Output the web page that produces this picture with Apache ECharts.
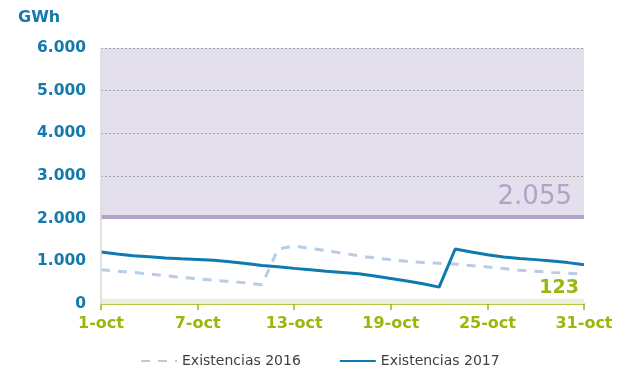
<!DOCTYPE html>
<html>
<head>
<meta charset="utf-8">
<script src="https://cdn.jsdelivr.net/npm/echarts@6/dist/echarts.min.js"></script>
<style>
  html, body { margin: 0; padding: 0; background: #fff; }
  #chart { width: 617px; height: 369px; }
</style>
</head>
<body>
<div id="chart"></div>
<script>
// Daily gas stock levels (GWh), October
const days = [
  '1-oct','2-oct','3-oct','4-oct','5-oct','6-oct','7-oct','8-oct','9-oct','10-oct',
  '11-oct','12-oct','13-oct','14-oct','15-oct','16-oct','17-oct','18-oct','19-oct','20-oct',
  '21-oct','22-oct','23-oct','24-oct','25-oct','26-oct','27-oct','28-oct','29-oct','30-oct','31-oct'
];
const stock2016 = [
  800, 770, 740, 705, 665, 625, 590, 555, 525, 495,
  450, 1290, 1360, 1300, 1250, 1190, 1130, 1080, 1040, 1000,
  975, 955, 935, 900, 870, 830, 790, 765, 740, 720, 700
];
const stock2017 = [
  1220, 1170, 1130, 1110, 1080, 1060, 1045, 1025, 990, 950,
  905, 875, 835, 805, 770, 740, 710, 655, 600, 540,
  475, 395, 1290, 1220, 1155, 1100, 1065, 1040, 1010, 970, 920
];
const maxLevel = 2055;   // upper reference level
const minLevel = 123;    // lower reference level
const yTicks = [0, 1000, 2000, 3000, 4000, 5000, 6000];

const seriesNames = ['Existencias 2016', 'Existencias 2017'];

const blue = '#1479ad';
const lineBlue = '#0f79b2';
const green = '#98b80b';
const purple = '#b3a2c7';

function fmtThousands(v) {
  if (v < 1000) return String(v);
  return Math.floor(v / 1000) + '.' + String(v % 1000).padStart(3, '0');
}

const chart = echarts.init(document.getElementById('chart'), null, { renderer: 'canvas' });

chart.setOption({
  animation: false,
  textStyle: { fontFamily: 'DejaVu Sans' },
  title: {
    text: 'GWh',
    left: 13,
    top: 5,
    textStyle: { color: blue, fontSize: 16, fontWeight: 'bold', fontFamily: 'DejaVu Sans' }
  },
  legend: {
    data: seriesNames,
    left: 135,
    top: 349,
    itemWidth: 36,
    itemHeight: 14,
    itemGap: 38,
    itemStyle: { opacity: 0 },
    textStyle: { color: '#404040', fontSize: 14, fontFamily: 'DejaVu Sans' }
  },
  grid: { left: 101, right: 33, top: 48, bottom: 65, containLabel: false },
  xAxis: {
    type: 'category',
    data: days,
    boundaryGap: false,
    axisLine: { lineStyle: { color: green, width: 1.5 } },
    axisTick: { interval: 5, length: 6, lineStyle: { color: green, width: 1.5 } },
    axisLabel: {
      interval: 5,
      margin: 12,
      color: green,
      fontSize: 16,
      fontWeight: 'bold',
      fontFamily: 'DejaVu Sans'
    },
    splitLine: { show: false }
  },
  yAxis: {
    type: 'value',
    min: yTicks[0],
    max: yTicks[yTicks.length - 1],
    interval: 1000,
    z: 5,
    axisLine: { show: true, lineStyle: { color: '#d9d9d9', width: 1.5 } },
    axisTick: { show: false },
    axisLabel: {
      margin: 15,
      color: blue,
      fontSize: 15.5,
      fontWeight: 'bold',
      fontFamily: 'DejaVu Sans',
      formatter: fmtThousands
    },
    splitLine: {
      show: true,
      lineStyle: {
        color: yTicks.map(v => v > maxLevel ? '#a0a0a0' : 'rgba(0,0,0,0)'),
        type: [2, 2],
        width: 1
      }
    }
  },
  series: [
    {
      name: seriesNames[0],
      type: 'line',
      data: stock2016,
      symbol: 'none',
      lineStyle: { color: '#b8cce4', width: 3, type: [9, 8] },
      itemStyle: { color: '#b8cce4' },
      z: 3,
      markArea: {
        silent: true,
        itemStyle: { color: '#e4dfec' },
        data: [[{ yAxis: maxLevel }, { yAxis: yTicks[yTicks.length - 1] }]]
      }
    },
    {
      name: seriesNames[1],
      type: 'line',
      data: stock2017,
      symbol: 'none',
      lineStyle: { color: lineBlue, width: 3 },
      itemStyle: { color: lineBlue },
      z: 4,
      markArea: {
        silent: true,
        itemStyle: { color: '#ecf1de' },
        data: [[{ yAxis: 0 }, { yAxis: minLevel }]]
      },
      markLine: {
        silent: true,
        symbol: 'none',
        data: [
          {
            yAxis: maxLevel,
            lineStyle: { color: purple, width: 4, type: 'solid' },
            label: {
              position: 'insideEndTop',
              distance: [12, 6],
              formatter: fmtThousands(maxLevel),
              color: purple,
              fontSize: 26,
              fontFamily: 'DejaVu Sans'
            }
          },
          {
            yAxis: minLevel,
            lineStyle: { color: 'rgba(0,0,0,0)', width: 1 },
            label: {
              show: true,
              position: 'insideEndTop',
              distance: [5, 1],
              formatter: String(minLevel),
              color: green,
              fontSize: 19,
              fontWeight: 'bold',
              fontFamily: 'DejaVu Sans'
            }
          }
        ]
      }
    }
  ]
});
</script>
</body>
</html>
